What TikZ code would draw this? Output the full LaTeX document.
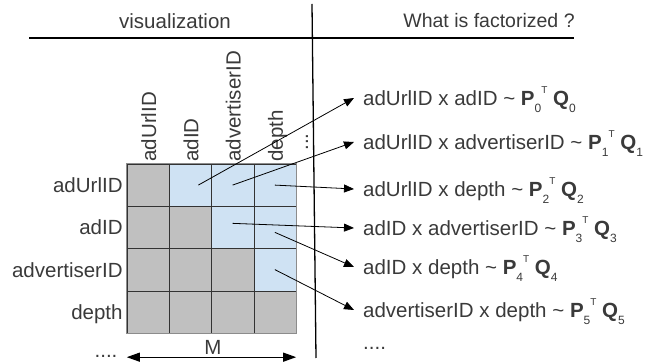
\documentclass[tikz,border=0pt]{standalone}
\usepackage{fontspec}
\setmainfont{Liberation Sans}
\usetikzlibrary{arrows.meta,positioning}
\definecolor{cellgray}{HTML}{C0C0C0}
\definecolor{cellblue}{HTML}{CFE2F3}
\definecolor{txt}{HTML}{3A3A3A}
\tikzset{cell/.style={draw=black!80,minimum size=42.25pt,inner sep=0pt},
  lbl/.style={text=txt,inner sep=0pt},
  arr/.style={-{Triangle[length=10pt,width=8pt]},line width=0.8pt}}
\newcommand{\pq}[1]{\textbf{P}\raisebox{-7pt}{\fontsize{12}{12}\selectfont #1}\raisebox{12pt}{\fontsize{10}{10}\selectfont T}\ \textbf{Q}\raisebox{-7pt}{\fontsize{12}{12}\selectfont #1}}

\begin{document}
\begin{tikzpicture}[x=1pt,y=-1pt,every node/.style={font=\fontsize{20.5}{24}\selectfont}]
\useasboundingbox (0,0) rectangle (670,363);
% headers
\node[lbl] (vis) at (175,21) {visualization};
\node[lbl,font=\fontsize{19.5}{23}\selectfont] (what) at (489,21) {What is factorized ?};
\draw[line width=1.3pt] (29,38) -- (574,38);
\draw[line width=1.3pt] (312,4) -- (316,358);

% the matrix
\foreach \r in {0,...,3}
  \foreach \c in {0,...,3} {
    \ifnum\c>\r \def\col{cellblue}\else \def\col{cellgray}\fi
    \node[cell,fill=\col] (c\r\c) at (148.1+42.25*\c,185.1+42.25*\r) {};
  }
\draw[black!45,line width=1pt] (c00.north west) rectangle (c33.south east);

\foreach \name [count=\i from 0] in {adUrlID,adID,advertiserID,depth} {
  \node[lbl,anchor=base east] (row\i) at ([xshift=-4pt,yshift=-7.5pt]c\i0.west) {\name};
  \node[lbl,rotate=90,anchor=base west] (col\i) at ([xshift=8pt,yshift=2pt]c0\i.north) {\name};
}
\node[lbl,rotate=90] (more) at (307,142) {...};

% size of the matrix
\draw[{Triangle[length=13pt,width=9pt]}-{Triangle[length=13pt,width=9pt]},line width=1.2pt]
  ([yshift=-24pt]c30.south west) -- ([yshift=-24pt]c33.south east);
\node[lbl] (m) at (213,347) {M};
\node[lbl,anchor=base] (dotsl) at (106,358) {....};

% what is factorized
\foreach \pair/\y [count=\i from 0] in {adUrlID x adID/98,adUrlID x advertiserID/142,
    adUrlID x depth/189,adID x advertiserID/228,adID x depth/267,advertiserID x depth/310}
  \node[lbl,anchor=base west] (f\i) at (363,\y+7.5) {\pair{} \textasciitilde{} \pq{\i}};
\node[lbl,anchor=base west] (dotsr) at (363,350) {....};

\foreach \s/\i/\dx/\dy in {c01/0/8/0,c02/1/0/0,c03/2/0/0,c12/3/0/4,c13/4/0/-5,c23/5/0/0}
  \draw[arr] ([xshift=\dx pt,yshift=\dy pt]\s.center) -- ([xshift=-9pt,yshift=7.5pt]f\i.base west);
\end{tikzpicture}
\end{document}
